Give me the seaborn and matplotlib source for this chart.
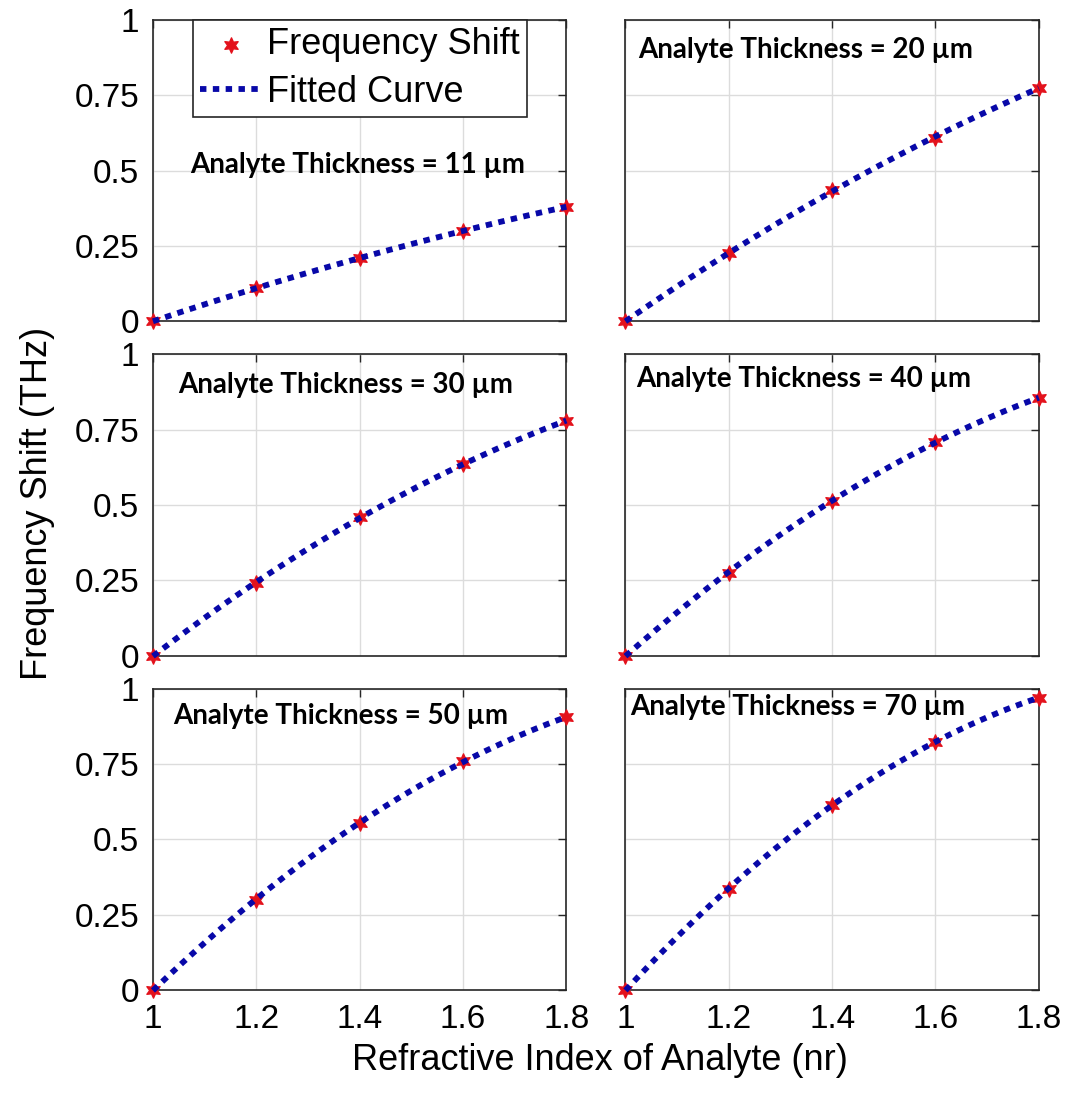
import numpy as np
import matplotlib
matplotlib.use('Agg')
import matplotlib.pyplot as plt
import seaborn as sns

# refractive index of analyte
nr = [1.0, 1.2, 1.4, 1.6, 1.8]

# frequency shift (THz) for each analyte thickness
shift_11 = [0.0, 0.11, 0.21, 0.30, 0.38]
shift_20 = [0.0, 0.225, 0.435, 0.61, 0.775]
shift_30 = [0.0, 0.24, 0.46, 0.635, 0.78]
shift_40 = [0.0, 0.275, 0.515, 0.71, 0.855]
shift_50 = [0.0, 0.30, 0.555, 0.76, 0.905]
shift_70 = [0.0, 0.335, 0.615, 0.825, 0.97]

thickness = ['11', '20', '30', '40', '50', '70']
series = [shift_11, shift_20, shift_30, shift_40, shift_50, shift_70]

x_ticks = [1, 1.2, 1.4, 1.6, 1.8]
x_ticklabels = ['1', '1.2', '1.4', '1.6', '1.8']
y_ticks = [0, 0.25, 0.5, 0.75, 1]
y_ticklabels = ['0', '0.25', '0.5', '0.75', '1']

# where the label of each panel sits (axes fraction)
label_pos = [(0.09, 0.52), (0.03, 0.90), (0.06, 0.90),
             (0.025, 0.92), (0.05, 0.91), (0.012, 0.94)]

sns.set_theme(style='white')
plt.rcParams['font.family'] = ['Liberation Sans', 'DejaVu Sans']
plt.rcParams['text.color'] = 'black'
plt.rcParams['xtick.labelcolor'] = 'black'
plt.rcParams['ytick.labelcolor'] = 'black'

fig, axes = plt.subplots(3, 2, figsize=(10.81, 10.94), dpi=100)
fig.subplots_adjust(left=0.1415, right=0.961, top=0.9817, bottom=0.095,
                    wspace=0.143, hspace=0.11)

red = '#e3121c'
blue = '#0808a8'
star = (6, 1, 0)

for i, ax in enumerate(axes.flat):
    y = series[i]
    coef = np.polyfit(nr, y, 2)
    xf = np.linspace(1.0, 1.8, 200)
    yf = np.polyval(coef, xf)

    sns.scatterplot(x=nr, y=y, ax=ax, marker=star, s=120, color=red,
                    edgecolor=red, linewidth=1, zorder=3, clip_on=False,
                    label='Frequency Shift' if i == 0 else None)
    sns.lineplot(x=xf, y=yf, ax=ax, color=blue, lw=4.2,
                 linestyle=(0, (1.1, 1.1)), dash_capstyle='butt',
                 zorder=4, clip_on=False,
                 label='Fitted Curve' if i == 0 else None)

    ax.set_xlim(1, 1.8)
    ax.set_ylim(0, 1)
    ax.set_xticks(x_ticks)
    ax.set_yticks(y_ticks)
    ax.grid(True, color='#dcdcdc', lw=1.0)
    ax.set_axisbelow(True)
    ax.tick_params(direction='in', length=6, width=1, top=True, right=True,
                   color='#262626', labelsize=24, pad=10)
    for sp in ax.spines.values():
        sp.set_color('#262626')
        sp.set_linewidth(1.2)

    if i % 2 == 0:
        ax.set_yticklabels(y_ticklabels)
    else:
        ax.set_yticklabels([])
    if i >= 4:
        ax.set_xticklabels(x_ticklabels)
    else:
        ax.set_xticklabels([])

    lx, ly = label_pos[i]
    ax.text(lx, ly, 'Analyte Thickness = %s µm' % thickness[i],
            transform=ax.transAxes, fontsize=20, fontweight='bold',
            family=['Lato', 'DejaVu Sans'], va='center', ha='left',
            color='black')

    if i == 0:
        leg = ax.legend(loc='upper center', bbox_to_anchor=(0.5, 1.0),
                        borderaxespad=0, fontsize=26, handlelength=1.75,
                        handletextpad=0.1, borderpad=0.2, labelspacing=0.35,
                        scatterpoints=1, fancybox=False, framealpha=1)
        leg.get_frame().set_edgecolor('#262626')
        leg.get_frame().set_linewidth(1.2)
    elif ax.get_legend() is not None:
        ax.get_legend().remove()

fig.text(0.035, 0.54, 'Frequency Shift (THz)', rotation=90, fontsize=26,
         ha='center', va='center')
fig.text(0.555, 0.031, 'Refractive Index of Analyte (nr)', fontsize=26,
         ha='center', va='center')

fig.savefig('out.png', dpi=100)
